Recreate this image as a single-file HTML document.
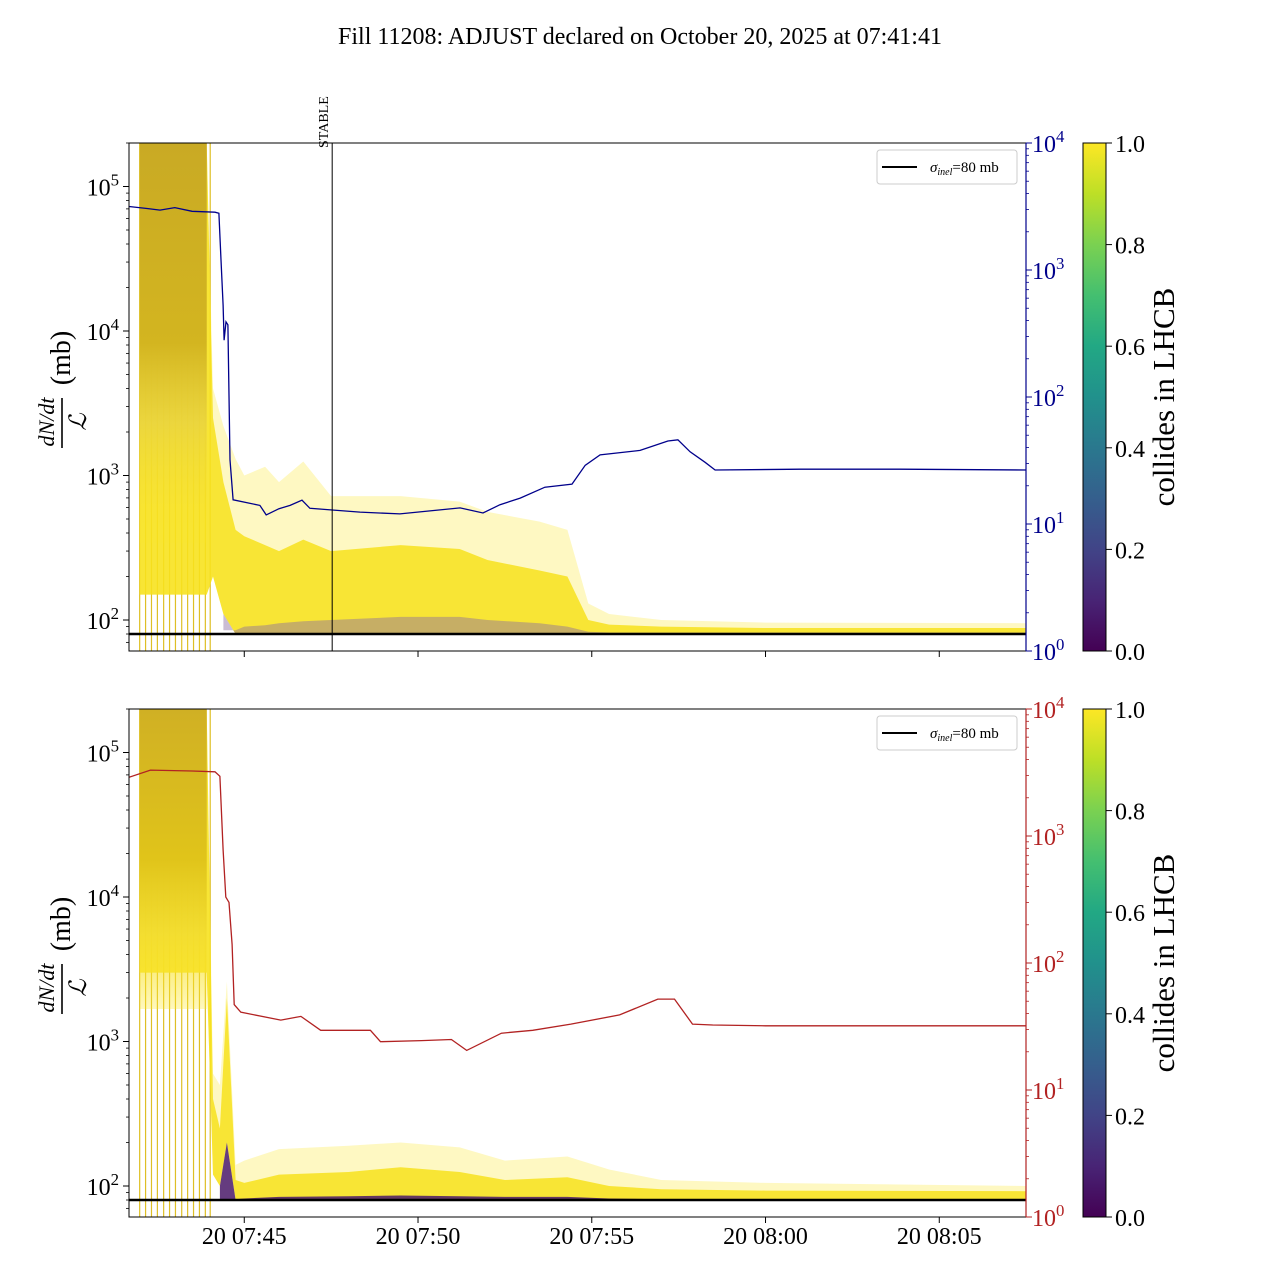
<!DOCTYPE html>
<html><head><meta charset="utf-8">
<style>
body{margin:0;background:#fff;}
svg{display:block;font-family:"Liberation Serif",serif;}
</style></head>
<body>
<svg id="fig" width="1280" height="1280" viewBox="0 0 1280 1280" xmlns="http://www.w3.org/2000/svg">
<defs>
<linearGradient id="viridis" x1="0" y1="1" x2="0" y2="0">
<stop offset="0" stop-color="#440154"/><stop offset="0.1" stop-color="#482475"/><stop offset="0.2" stop-color="#414487"/><stop offset="0.3" stop-color="#355f8d"/><stop offset="0.4" stop-color="#2a788e"/><stop offset="0.5" stop-color="#21918c"/><stop offset="0.6" stop-color="#22a884"/><stop offset="0.7" stop-color="#44bf70"/><stop offset="0.8" stop-color="#7ad151"/><stop offset="0.9" stop-color="#bddf26"/><stop offset="1" stop-color="#fde725"/>
</linearGradient>
<linearGradient id="blockGradTop" x1="0" y1="0" x2="0" y2="1">
<stop offset="0" stop-color="#c9aa24"/><stop offset="0.5" stop-color="#d3b520"/><stop offset="0.7" stop-color="#e8d240" stop-opacity="0.8"/><stop offset="1" stop-color="#fde725" stop-opacity="0.1"/>
</linearGradient>
<linearGradient id="blockGradBot" x1="0" y1="0" x2="0" y2="1">
<stop offset="0" stop-color="#d0b024"/><stop offset="0.5" stop-color="#e0c41a"/><stop offset="0.75" stop-color="#f2dc30" stop-opacity="0.85"/><stop offset="1" stop-color="#fde725" stop-opacity="0.3"/>
</linearGradient>
<clipPath id="clipTop"><rect x="129" y="143" width="897" height="508"/></clipPath>
<clipPath id="clipBot"><rect x="129" y="709" width="897" height="508"/></clipPath>
</defs>
<text x="640" y="44" font-size="24" text-anchor="middle">Fill 11208: ADJUST declared on October 20, 2025 at 07:41:41</text>
<g id="topPanel"></g>
<g id="botPanel"></g>
</svg>
<script>
// ---- data (time in minutes after 07:40) ----
const xTickLabels = ["20 07:45","20 07:50","20 07:55","20 08:00","20 08:05"];
const xTickTimes = [5,10,15,20,25];
const leftTickExps = [2,3,4,5];
const rightTickExps = [0,1,2,3,4];
const cbTicks = ["0.0","0.2","0.4","0.6","0.8","1.0"];
const blockLineTimes = [1.99,2.16,2.33,2.5,2.68,2.85,3.02,3.2,3.37,3.54,3.71,3.88,4.02];
const sigmaInel = 80;
const stableTime = 7.53;

// top panel envelopes
const topT      = [1.99, 3.92, 4.10, 4.40, 4.75, 5.00, 5.60, 6.00, 6.70, 7.50, 9.50, 11.20, 12.00, 13.50, 14.30, 14.90, 15.50, 17.00, 20.00, 27.50];
const topFaint  = [2e5, 2e5, 4000, 2200, 1300, 1000, 1150, 900, 1250, 720, 720, 660, 560, 480, 420, 130, 110, 100, 96, 95];
const topDense  = [2e5, 2e5, 2500, 900, 420, 380, 330, 300, 360, 300, 330, 310, 260, 220, 200, 100, 93, 90, 88, 88];
const topLower  = [150, 150, 200, 110, 80, 80, 80, 80, 80, 80, 80, 80, 80, 80, 80, 80, 80, 80, 80, 80];
const topPurple = [80, 80, 80, 85, 85, 90, 92, 95, 98, 100, 105, 105, 100, 95, 90, 83, 82, 82, 82, 82];

// bottom panel envelopes
const botT      = [1.99, 3.92, 4.10, 4.30, 4.50, 4.75, 5.00, 6.00, 8.00, 9.50, 11.20, 12.50, 14.30, 15.50, 17.00, 20.00, 27.50];
const botFaint  = [2e5, 2e5, 600, 500, 2600, 140, 150, 180, 190, 200, 185, 150, 160, 130, 110, 105, 100];
const botDense  = [2e5, 2e5, 400, 250, 2000, 110, 105, 120, 125, 135, 125, 110, 115, 100, 95, 93, 92];
const botLower  = [3000, 3000, 120, 100, 200, 80, 80, 80, 80, 80, 80, 80, 80, 80, 80, 80, 80];
const botPurple = [80, 80, 80, 80, 80, 81, 82, 84, 85, 86, 85, 84, 84, 82, 81, 81, 81];

// right-axis series
const blueT = [1.683,2.2,2.575,3.0,3.5,4.158,4.27,4.33,4.39,4.42,4.475,4.53,4.59,4.68,5.45,5.63,6.0,6.32,6.66,6.89,7.53,8.33,9.48,11.21,11.87,12.36,12.94,13.65,14.43,14.81,15.24,16.39,17.19,17.48,17.83,18.26,18.55,21.0,23.87,27.5];
const blueV = [3160,3050,2960,3100,2900,2850,2800,1200,530,280,390,370,32,15.5,14,11.8,13.2,14,15.4,13.3,12.9,12.4,12,13.4,12.2,14.2,16,19.5,20.6,29,35,38,45,46,37,30.6,26.6,27,27,26.6];
const redT = [1.683,2.3,3.5,4.158,4.3,4.39,4.47,4.56,4.65,4.71,4.9,6.05,6.63,7.2,8.63,8.92,10.1,10.96,11.4,12.4,13.3,14.4,15.8,16.9,17.38,17.9,18.48,20.0,27.5];
const redV = [2900,3300,3250,3200,2950,780,330,300,140,47,41,35.5,38,29.5,29.5,24,24.5,25,20.5,28,29.5,33,39,52,52,33,32.5,32,32];

// ---- axis functions ----
const X0=129, X1=1026, T0=1.683, PXMIN=34.75;
function xs(t){ return X0 + (t - T0)*PXMIN; }
function yLeft(v, top){ return top + 477 - 144.5*(Math.log10(v) - 2); }
function yRight(v, top){ return top + 508 - 127*Math.log10(v); }

const NS="http://www.w3.org/2000/svg";
function mk(tag, attrs, parent){
  const e=document.createElementNS(NS,tag);
  for(const k in attrs) e.setAttribute(k, attrs[k]);
  parent.appendChild(e); return e;
}
function bandPath(T, up, lo, top){
  let d="";
  for(let i=0;i<T.length;i++) d += (i?"L":"M")+xs(T[i]).toFixed(1)+","+yLeft(up[i],top).toFixed(1);
  for(let i=T.length-1;i>=0;i--) d += "L"+xs(T[i]).toFixed(1)+","+yLeft(lo[i],top).toFixed(1);
  return d+"Z";
}
function linePath(T, V, yf, top){
  let d="";
  for(let i=0;i<T.length;i++) d += (i?"L":"M")+xs(T[i]).toFixed(1)+","+yf(V[i],top).toFixed(1);
  return d;
}
function fmtSup(parent, x, y, base, exp, color, anchor, size){
  const t=mk("text",{x:x,y:y,"font-size":size,fill:color,"text-anchor":anchor},parent);
  t.appendChild(document.createTextNode(base));
  const s=mk("tspan",{dy:-10,"font-size":size*0.7},t);
  s.textContent=exp;
  return t;
}

function drawPanel(g, top, T, faint, dense, lower, purple, rT, rV, rColor, isBottom){
  const clip = isBottom ? "url(#clipBot)" : "url(#clipTop)";
  const cg = mk("g",{"clip-path":clip},g);
  
  
  blockLineTimes.forEach(bt=>{
    const l=mk("line",{x1:xs(bt),x2:xs(bt),y1:top,y2:top+508,stroke:"#d9b400","stroke-width":1.2,opacity:0.85},cg);
    
    
  });
  const f=mk("path",{d:bandPath(T,faint,lower,top),fill:"#fde725","fill-opacity":0.28},cg);
  
  
  const dn=mk("path",{d:bandPath(T,dense,lower,top),fill:"#f7e21c","fill-opacity":0.85},cg);
  
  
  const bx0=xs(T[0]), bx1=xs(T[1]);
  const blk=mk("rect",{x:bx0,y:top,width:bx1-bx0,height:isBottom?300:400,fill:isBottom?"url(#blockGradBot)":"url(#blockGradTop)"},cg);
  
  
  const pp=mk("path",{d:bandPath(T.slice(3),purple.slice(3),lower.slice(3),top),fill:isBottom?"#4a1a68":"#8a6aa0","fill-opacity":isBottom?0.85:0.45},cg);
  
  
  const sy=yLeft(sigmaInel,top);
  const sl=mk("line",{x1:X0,x2:X1,y1:sy,y2:sy,stroke:"#000","stroke-width":2.5},cg);
  
  
  const rl=mk("path",{d:linePath(rT,rV,yRight,top),fill:"none",stroke:rColor,"stroke-width":1.3},cg);
  
  
  if(!isBottom){
    const st=mk("line",{x1:xs(stableTime),x2:xs(stableTime),y1:top,y2:top+508,stroke:"#000","stroke-width":1},g);
    
    
    const stt=mk("text",{x:0,y:0,"font-size":14,transform:"translate("+(xs(stableTime)-4)+",148) rotate(-90)"},g);
    stt.textContent="STABLE";
    
    
  }
  const fr=mk("rect",{x:X0,y:top,width:X1-X0,height:508,fill:"none",stroke:"#000","stroke-width":1},g);
  
  
  mk("line",{x1:X1,x2:X1,y1:top,y2:top+508,stroke:rColor,"stroke-width":1.2},g);
  leftTickExps.forEach(e=>{
    const y=yLeft(Math.pow(10,e),top);
    mk("line",{x1:X0-6,x2:X0,y1:y,y2:y,stroke:"#000"},g);
    const lab=fmtSup(g,X0-10,y+9,"10",String(e),"#000","end",24);
    
    
    for(let m=2;m<10;m++){
      const ym=yLeft(m*Math.pow(10,e),top);
      if(ym>top && ym<top+508) mk("line",{x1:X0-3,x2:X0,y1:ym,y2:ym,stroke:"#000","stroke-width":0.8},g);
    }
  });
  [6,7,8,9].forEach(m=>{const ym=yLeft(m*10,top); if(ym<top+508) mk("line",{x1:X0-3,x2:X0,y1:ym,y2:ym,stroke:"#000","stroke-width":0.8},g);});
  rightTickExps.forEach(e=>{
    const y=yRight(Math.pow(10,e),top);
    mk("line",{x1:X1,x2:X1+6,y1:y,y2:y,stroke:rColor},g);
    const lab=fmtSup(g,X1+6,y+9,"10",String(e),rColor,"start",24);
    
    
    if(e<4) for(let m=2;m<10;m++){
      const ym=yRight(m*Math.pow(10,e),top);
      mk("line",{x1:X1,x2:X1+3,y1:ym,y2:ym,stroke:rColor,"stroke-width":0.8},g);
    }
  });
  xTickTimes.forEach((t,i)=>{
    mk("line",{x1:xs(t),x2:xs(t),y1:top+508,y2:top+514,stroke:"#000"},g);
    if(isBottom){
      const tl=mk("text",{x:xs(t),y:top+535,"font-size":24,"text-anchor":"middle"},g);
      tl.textContent=xTickLabels[i];
      
      
    }
  });
  const yl=mk("g",{transform:"translate(62,"+(top+255)+") rotate(-90)"},g);
  
  
  const n=mk("text",{x:-24,y:-8,"font-size":22,"font-style":"italic","text-anchor":"middle"},yl); n.textContent="dN/dt";
  mk("line",{x1:-50,x2:0,y1:0,y2:0,stroke:"#000","stroke-width":1.6},yl);
  const dd=mk("text",{x:-24,y:24,"font-size":24,"font-style":"italic","text-anchor":"middle"},yl); dd.textContent="ℒ";
  const mb=mk("text",{x:40,y:8,"font-size":28,"text-anchor":"middle"},yl); mb.textContent="(mb)";
  const lg=mk("g",{},g);
  
  
  mk("rect",{x:877,y:top+7,width:140,height:34,rx:3,fill:"#fff",stroke:"#ccc"},lg);
  mk("line",{x1:882,x2:917,y1:top+24,y2:top+24,stroke:"#000","stroke-width":2},lg);
  const lt=mk("text",{x:930,y:top+29,"font-size":15},lg);
  const s1=mk("tspan",{"font-style":"italic"},lt); s1.textContent="σ";
  const s2=mk("tspan",{"font-style":"italic","font-size":10,dy:3},lt); s2.textContent="inel";
  const s3=mk("tspan",{dy:-3},lt); s3.textContent="=80 mb";
  const cb=mk("g",{},g);
  
  
  mk("rect",{x:1083,y:top,width:23,height:508,fill:"url(#viridis)",stroke:"#000","stroke-width":1},cb);
  cbTicks.forEach((c,i)=>{
    const y=top+508-i*508/5;
    mk("line",{x1:1106,x2:1112,y1:y,y2:y,stroke:"#000"},cb);
    const ct=mk("text",{x:1115,y:y+9,"font-size":24},cb); ct.textContent=c;
  });
  const ctl=mk("text",{x:0,y:0,"font-size":31,"text-anchor":"middle",transform:"translate(1174,"+(top+254)+") rotate(-90)"},cb);
  ctl.textContent="collides in LHCB";
  
  
}
drawPanel(document.getElementById('topPanel'),143,topT,topFaint,topDense,topLower,topPurple,blueT,blueV,"#00008b",false);
drawPanel(document.getElementById('botPanel'),709,botT,botFaint,botDense,botLower,botPurple,redT,redV,"#b22222",true);
</script>
</body></html>
